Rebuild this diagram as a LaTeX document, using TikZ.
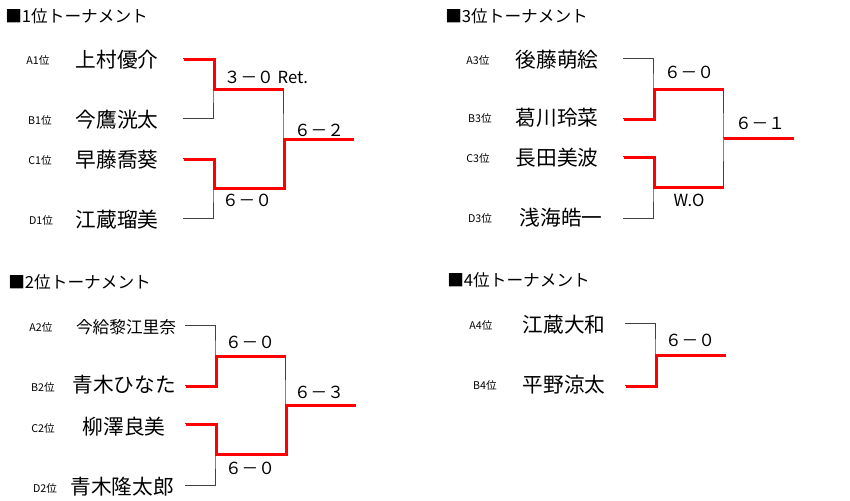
\documentclass[tikz,border=0pt]{standalone}
\usepackage{fontspec}
\usepackage{tikz}
\usetikzlibrary{positioning}
\newfontfamily\jpfont{Noto Sans CJK JP}

\tikzset{
  every node/.style={inner sep=0pt, font=\jpfont},
  head/.style={anchor=west, font=\jpfont\fontsize{12.5}{14}\selectfont},
  seed/.style={font=\jpfont\fontsize{8}{9}\selectfont},
  player/.style={font=\jpfont\fontsize{15.5}{17}\selectfont},
  result/.style={font=\jpfont\fontsize{12.5}{14}\selectfont},
  bracket/.style={line width=0.7pt, black!75},
  win/.style={line width=2.2pt, red, transform canvas={shift={(1pt,-1pt)}}},
}

\begin{document}
\begin{tikzpicture}[x=0.75pt, y=-0.75pt]
  \useasboundingbox (0,0) rectangle (850,500);

  % 1位トーナメント
  \node[head] (t1) at (5,16) {■1位トーナメント};
  \node[seed] (sa1) at (38,60) {A1位};
  \node[seed] (sb1) at (40,120) {B1位};
  \node[seed] (sc1) at (40,160) {C1位};
  \node[seed] (sd1) at (41,220) {D1位};
  \node[player] (pa1) at (117,60) {上村優介};
  \node[player] (pb1) at (117,120) {今鷹洸太};
  \node[player] (pc1) at (117,160) {早藤喬葵};
  \node[player] (pd1) at (117,220) {江蔵瑠美};
  \coordinate (a1) at (183,58);
  \coordinate (b1) at (183,118);
  \coordinate (c1) at (183,158);
  \coordinate (d1) at (183,218);
  \coordinate (ab1) at (213,88);
  \coordinate (cd1) at (213,187);
  \coordinate (f1) at (283,138);
  \coordinate (w1) at (353,138);
  \draw[bracket] (a1) -| (ab1) |- (b1);
  \draw[bracket] (c1) -| (cd1) |- (d1);
  \draw[bracket] (ab1) -| (f1) |- (cd1);
  \draw[bracket] (f1) -- (w1);
  \draw[win] (a1) -| (ab1) -- (ab1 -| f1);
  \draw[win] (c1) -| (cd1) -- (cd1 -| f1) |- (w1);
  \node[result] (r1a) at (266,77) {３－０ Ret.};
  \node[result] (r1f) at (319,130) {６－２};
  \node[result] (r1b) at (247,200) {６－０};

  % 3位トーナメント
  \node[head] (t3) at (445,16) {■3位トーナメント};
  \node[seed] (sa3) at (478,60) {A3位};
  \node[seed] (sb3) at (480,118) {B3位};
  \node[seed] (sc3) at (478,158) {C3位};
  \node[seed] (sd3) at (480,218) {D3位};
  \node[player] (pa3) at (557,60) {後藤萌絵};
  \node[player] (pb3) at (557,118) {葛川玲菜};
  \node[player] (pc3) at (557,158) {長田美波};
  \node[player] (pd3) at (561,218) {浅海皓一};
  \coordinate (a3) at (623,58);
  \coordinate (b3) at (623,118);
  \coordinate (c3) at (623,156);
  \coordinate (d3) at (623,218);
  \coordinate (ab3) at (653,88);
  \coordinate (cd3) at (653,186);
  \coordinate (f3) at (723,137);
  \coordinate (w3) at (793,137);
  \draw[bracket] (a3) -| (ab3) |- (b3);
  \draw[bracket] (c3) -| (cd3) |- (d3);
  \draw[bracket] (ab3) -| (f3) |- (cd3);
  \draw[bracket] (f3) -- (w3);
  \draw[win] (b3) -| (ab3) -- (ab3 -| f3);
  \draw[win] (c3) -| (cd3) -- (cd3 -| f3);
  \draw[win] (f3) -- (w3);
  \node[result] (r3a) at (689,72) {６－０};
  \node[result] (r3f) at (760,123) {６－１};
  \node[result] (r3b) at (689,200) {W.O};

  % 2位トーナメント
  \node[head] (t2) at (8,282) {■2位トーナメント};
  \node[seed] (sa2) at (41,327) {A2位};
  \node[seed] (sb2) at (43,387) {B2位};
  \node[seed] (sc2) at (43,428) {C2位};
  \node[seed] (sd2) at (45,488) {D2位};
  \node[player, font=\jpfont\fontsize{12.5}{14}\selectfont] (pa2) at (126,327) {今給黎江里奈};
  \node[player] (pb2) at (124,385) {青木ひなた};
  \node[player] (pc2) at (124,427) {柳澤良美};
  \node[player] (pd2) at (122,487) {青木隆太郎};
  \coordinate (a2) at (185,325);
  \coordinate (b2) at (185,385);
  \coordinate (c2) at (185,423);
  \coordinate (d2) at (185,485);
  \coordinate (ab2) at (215,355);
  \coordinate (cd2) at (215,453);
  \coordinate (f2) at (285,404);
  \coordinate (w2) at (355,404);
  \draw[bracket] (a2) -| (ab2) |- (b2);
  \draw[bracket] (c2) -| (cd2) |- (d2);
  \draw[bracket] (ab2) -| (f2) |- (cd2);
  \draw[bracket] (f2) -- (w2);
  \draw[win] (b2) -| (ab2) -- (ab2 -| f2);
  \draw[win] (c2) -| (cd2) -- (cd2 -| f2) |- (w2);
  \node[result] (r2a) at (250,342) {６－０};
  \node[result] (r2f) at (319,392) {６－３};
  \node[result] (r2b) at (250,468) {６－０};

  % 4位トーナメント
  \node[head] (t4) at (447,280) {■4位トーナメント};
  \node[seed] (sa4) at (481,325) {A4位};
  \node[seed] (sb4) at (485,385) {B4位};
  \node[player] (pa4) at (564,325) {江蔵大和};
  \node[player] (pb4) at (564,385) {平野涼太};
  \coordinate (a4) at (625,323);
  \coordinate (b4) at (625,385);
  \coordinate (ab4) at (655,354);
  \coordinate (w4) at (725,354);
  \draw[bracket] (a4) -| (ab4) |- (b4);
  \draw[bracket] (ab4) -- (w4);
  \draw[win] (b4) -| (ab4) -- (w4);
  \node[result] (r4a) at (690,340) {６－０};

\end{tikzpicture}
\end{document}
